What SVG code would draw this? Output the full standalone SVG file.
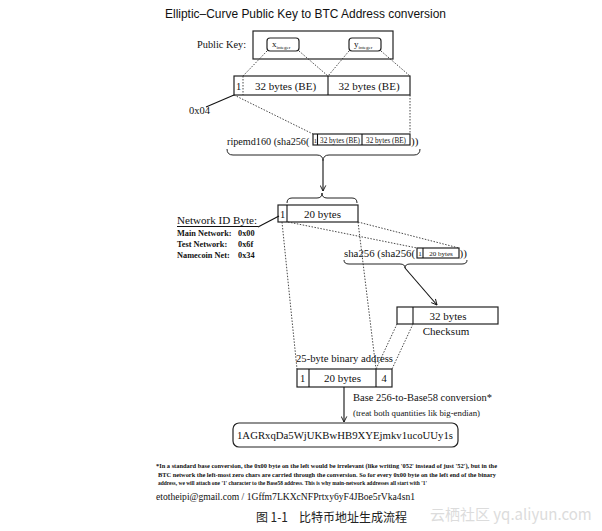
<svg xmlns="http://www.w3.org/2000/svg" width="602" height="531" viewBox="0 0 602 531">
<style>
.t{font-family:"Liberation Serif","Times New Roman",serif;fill:#111}
.s{font-family:"Liberation Sans",Arial,sans-serif;fill:#111}
.box{fill:#fff;stroke:#222;stroke-width:1.2}
.dot{fill:none;stroke:#333;stroke-width:0.9;stroke-dasharray:1.5 1.5}
.ln{fill:none;stroke:#111;stroke-width:1.1}
.br{fill:none;stroke:#222;stroke-width:1}
</style>
<defs>
<marker id="ah" viewBox="0 0 10 10" refX="9" refY="5" markerWidth="7" markerHeight="7" orient="auto" markerUnits="userSpaceOnUse">
<path d="M1,1 L9,5 L1,9" fill="none" stroke="#111" stroke-width="1.3"/>
</marker>
</defs>
<rect width="602" height="531" fill="#fff"/>
<text class="s" x="165" y="18" font-size="13" textLength="281" lengthAdjust="spacingAndGlyphs">Elliptic–Curve Public Key to BTC Address conversion</text>

<g id="pubkey">
<text class="t" x="197" y="48" font-size="11" textLength="49" lengthAdjust="spacingAndGlyphs">Public Key:</text>
<rect class="box" x="253" y="31" width="140" height="28"/>
<rect class="box" x="267" y="38" width="32" height="13" rx="3"/>
<text class="t" x="272" y="47" font-size="9">x<tspan font-size="5" dy="1.5">integer</tspan></text>
<rect class="box" x="349" y="38" width="32" height="13" rx="3"/>
<text class="t" x="354" y="47" font-size="9">y<tspan font-size="5" dy="1.5">integer</tspan></text>
</g>

<g id="row65">
<rect class="box" x="234" y="76" width="176" height="19"/>
<line class="dot" x1="243" y1="76" x2="243" y2="95"/>
<line class="ln" x1="328" y1="76" x2="328" y2="95"/>
<text class="t" x="236" y="90" font-size="10.5">1</text>
<text class="t" x="285.5" y="90" font-size="11" text-anchor="middle">32 bytes (BE)</text>
<text class="t" x="369" y="90" font-size="11" text-anchor="middle">32 bytes (BE)</text>
</g>

<g id="prefix04">
<text class="t" x="189" y="114" font-size="10.5">0x04</text>
</g>

<g id="ripemd">
<text class="t" x="227" y="145" font-size="10.2">ripemd160 (sha256(</text>
<rect class="box" x="313" y="134" width="97" height="11" stroke-width="1"/>
<line class="ln" x1="317.5" y1="134" x2="317.5" y2="145"/>
<line class="ln" x1="362" y1="134" x2="362" y2="145"/>
<text class="t" x="315.3" y="143" font-size="6.5" text-anchor="middle">1</text>
<text class="t" x="340" y="143" font-size="7.2" text-anchor="middle">32 bytes (BE)</text>
<text class="t" x="386" y="143" font-size="7.2" text-anchor="middle">32 bytes (BE)</text>
<text class="t" x="411" y="145" font-size="11">))</text>
</g>

<g id="hash160">
<rect class="box" x="278" y="205" width="80" height="17"/>
<line class="ln" x1="287" y1="205" x2="287" y2="222"/>
<text class="t" x="280" y="218" font-size="10.5">1</text>
<text class="t" x="322.5" y="218" font-size="11" text-anchor="middle">20 bytes</text>
</g>

<g id="netid">
<text class="t" x="177" y="224" font-size="11" textLength="80" lengthAdjust="spacingAndGlyphs">Network ID Byte:</text>
<text class="t" x="177" y="236" font-size="8.3" font-weight="bold">Main Network:</text>
<text class="t" x="238" y="236" font-size="8.3" font-weight="bold">0x00</text>
<text class="t" x="177" y="247" font-size="8.3" font-weight="bold">Test Network:</text>
<text class="t" x="238" y="247" font-size="8.3" font-weight="bold">0x6f</text>
<text class="t" x="177" y="258" font-size="8.3" font-weight="bold">Namecoin Net:</text>
<text class="t" x="238" y="258" font-size="8.3" font-weight="bold">0x34</text>
</g>

<g id="sha256">
<text class="t" x="344" y="257" font-size="10.8">sha256 (sha256(</text>
<rect class="box" x="417" y="248" width="42" height="10" stroke-width="1"/>
<line class="ln" x1="423" y1="248" x2="423" y2="258"/>
<text class="t" x="420" y="256" font-size="7" text-anchor="middle">1</text>
<text class="t" x="441" y="256" font-size="7" text-anchor="middle">20 bytes</text>
<text class="t" x="459.5" y="257" font-size="11">))</text>
</g>

<g id="checksum">
<rect class="box" x="397" y="307" width="101" height="17"/>
<line class="ln" x1="413" y1="307" x2="413" y2="324"/>
<text class="t" x="448" y="320" font-size="11" text-anchor="middle">32 bytes</text>
<text class="t" x="446" y="335" font-size="11" text-anchor="middle">Checksum</text>
</g>

<g id="addr25">
<text class="t" x="296" y="362" font-size="11" textLength="97" lengthAdjust="spacingAndGlyphs">25-byte binary address</text>
<rect class="box" x="297" y="369" width="95" height="18"/>
<line class="ln" x1="309" y1="369" x2="309" y2="387"/>
<line class="ln" x1="376" y1="369" x2="376" y2="387"/>
<text class="t" x="300" y="382" font-size="10.5">1</text>
<text class="t" x="342.5" y="382" font-size="11" text-anchor="middle">20 bytes</text>
<text class="t" x="384" y="382" font-size="10.5" text-anchor="middle">4</text>
</g>

<g id="conv">
<text class="t" x="353" y="401" font-size="11" textLength="139" lengthAdjust="spacingAndGlyphs">Base 256-to-Base58 conversion*</text>
<text class="t" x="353" y="416" font-size="8" textLength="127" lengthAdjust="spacingAndGlyphs">(treat both quantities lik big-endian)</text>
</g>

<g id="address">
<rect class="box" x="233" y="423" width="225" height="24" rx="6"/>
<text class="t" x="237" y="439" font-size="11" textLength="216" lengthAdjust="spacingAndGlyphs">1AGRxqDa5WjUKBwHB9XYEjmkv1ucoUUy1s</text>
</g>

<g id="connectors">
<line class="dot" x1="267" y1="51" x2="243" y2="76"/>
<line class="dot" x1="299" y1="51" x2="328" y2="76"/>
<line class="dot" x1="349" y1="51" x2="328" y2="76"/>
<line class="dot" x1="381" y1="51" x2="410" y2="76"/>
<line class="ln" x1="206" y1="107" x2="234" y2="95"/>
<line class="dot" x1="234" y1="95" x2="313" y2="134"/>
<line class="dot" x1="410" y1="95" x2="410" y2="134"/>
<path class="br" d="M227,149 Q227,155 233,155 L317,155 Q323,155 323,161 Q323,155 329,155 L414,155 Q420,155 420,149"/>
<line class="ln" x1="323" y1="161" x2="323" y2="191" marker-end="url(#ah)"/>
<path class="br" d="M287,203 Q287,198 292,198 L317,198 Q322,198 322,193 Q322,198 327,198 L352,198 Q357,198 357,203"/>
<line class="ln" x1="258" y1="227" x2="279" y2="216"/>
<line class="ln" x1="177" y1="226.5" x2="258" y2="226.5" stroke-width="0.8"/>
<line class="dot" x1="282" y1="222" x2="297" y2="369"/>
<line class="dot" x1="288" y1="222" x2="417" y2="248"/>
<line class="dot" x1="358" y1="222" x2="459" y2="248"/>
<line class="dot" x1="358" y1="222" x2="376" y2="369"/>
<path class="br" d="M344,260 Q344,264 349,264 L400,264 Q405,264 405,268 Q405,264 410,264 L462,264 Q467,264 467,260"/>
<line class="ln" x1="405" y1="268" x2="437" y2="305" marker-end="url(#ah)" stroke-width="1.4"/>
<line class="dot" x1="397" y1="324" x2="376" y2="369"/>
<line class="dot" x1="413" y1="324" x2="392" y2="369"/>
<line class="ln" x1="344" y1="387" x2="344" y2="422" marker-end="url(#ah)"/>
</g>

<g id="footer">
<text class="t" x="156" y="468" font-size="6" font-weight="bold" textLength="341" lengthAdjust="spacingAndGlyphs">*In a standard base conversion, the 0x00 byte on the left would be irrelevant (like writing '052' instead of just '52'), but in the</text>
<text class="t" x="158" y="476.5" font-size="6" font-weight="bold" textLength="338" lengthAdjust="spacingAndGlyphs">BTC network the left-most zero chars are carried through the conversion. So for every 0x00 byte on the left end of the binary</text>
<text class="t" x="158" y="485" font-size="6" font-weight="bold" textLength="269" lengthAdjust="spacingAndGlyphs">address, we will attach one '1' character to the Base58 address. This is why main-network addresses all start with '1'</text>
<text class="t" x="156" y="500" font-size="10" textLength="259" lengthAdjust="spacingAndGlyphs">etotheipi@gmail.com / 1Gffm7LKXcNFPrtxy6yF4JBoe5rVka4sn1</text>
<text x="256" y="522" font-size="12.5" font-family="'Noto Sans CJK SC','Liberation Serif',serif" fill="#222" textLength="32" lengthAdjust="spacingAndGlyphs">图 1-1</text>
<text x="299" y="522" font-size="12.5" font-family="'Noto Sans CJK SC','Liberation Serif',serif" fill="#222" textLength="108" lengthAdjust="spacingAndGlyphs">比特币地址生成流程</text>
<text x="430" y="520" font-size="15" font-family="'Noto Sans CJK SC','Liberation Sans',sans-serif" fill="#dcdcdc">云栖社区 yq.aliyun.com</text>
</g>
</svg>
